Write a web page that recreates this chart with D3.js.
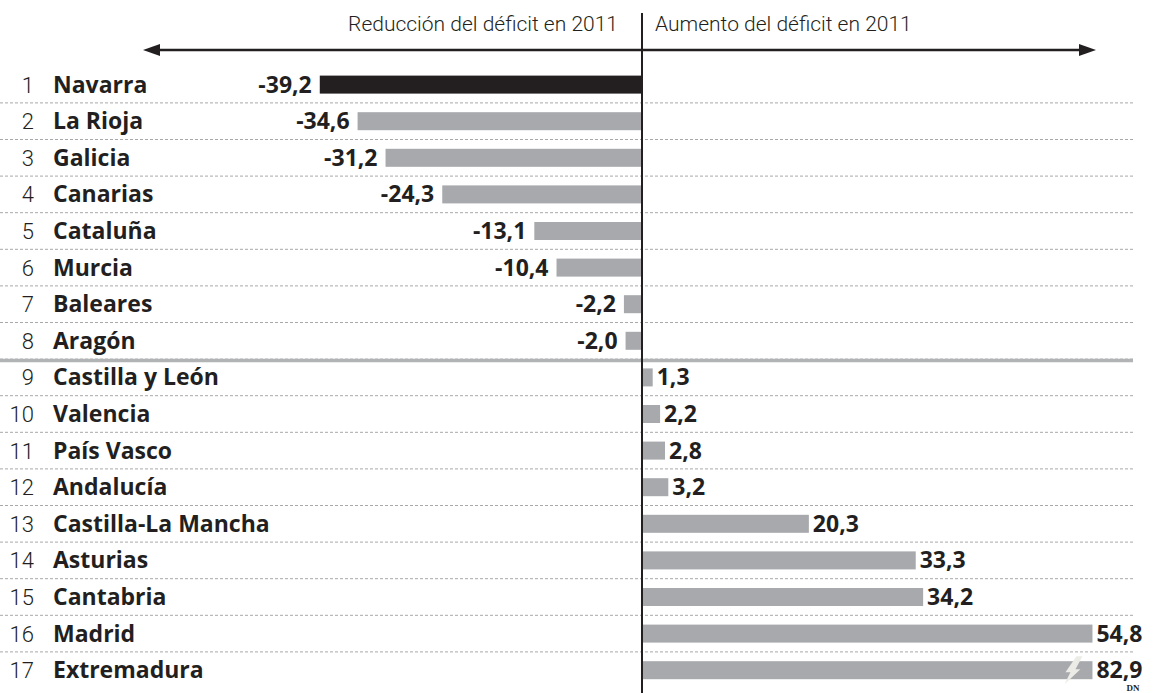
<!DOCTYPE html>
<html>
<head>
<meta charset="utf-8">
<script src="https://cdn.jsdelivr.net/npm/d3@7"></script>
<style>
  body { margin: 0; background: #fff; }
  .rank { font-family: Roboto, "Open Sans", sans-serif; font-weight: 300; font-size: 22px; fill: #231f20; }
  .name, .value { font-family: "Open Sans", Roboto, sans-serif; font-weight: 700; font-size: 23px; fill: #231f20; }
  .head { font-family: Roboto, sans-serif; font-weight: 300; font-size: 21px; fill: #231f20; }
</style>
</head>
<body>
<div id="chart"></div>
<script>
// data
const regions = ["Navarra", "La Rioja", "Galicia", "Canarias", "Cataluña", "Murcia", "Baleares", "Aragón",
  "Castilla y León", "Valencia", "País Vasco", "Andalucía", "Castilla-La Mancha", "Asturias", "Cantabria",
  "Madrid", "Extremadura"];
const values = [-39.2, -34.6, -31.2, -24.3, -13.1, -10.4, -2.2, -2.0,
  1.3, 2.2, 2.8, 3.2, 20.3, 33.3, 34.2, 54.8, 82.9];
const headLabels = ["Reducción del déficit en 2011", "Aumento del déficit en 2011"];
const breakValue = 54.8; // bars beyond this are cut (Extremadura)

const config = {
  width: 1169,
  height: 693,
  zeroX: 642,
  unit: 8.22,
  rowTop: 66.3,
  rowStep: 36.6,
  barH: 18,
  lineEnd: 1133
};

// spanish decimal comma, plain hyphen for negatives
const fmt = v => d3.format(".1f")(v).replace(".", ",").replace("\u2212", "-");

const svg = d3.select("#chart").append("svg")
  .attr("width", config.width)
  .attr("height", config.height);

const x = d3.scaleLinear()
  .domain([-39.2, breakValue])
  .range([config.zeroX - 39.2 * config.unit, config.zeroX + breakValue * config.unit]);

const y = d3.scaleBand()
  .domain(regions)
  .range([config.rowTop, config.rowTop + regions.length * config.rowStep]);

// dotted separators
svg.selectAll(".sep").data(regions.slice(0, -1))
  .enter().append("line")
  .attr("class", "sep")
  .attr("x1", 0).attr("x2", config.lineEnd)
  .attr("y1", d => y(d) + y.bandwidth())
  .attr("y2", d => y(d) + y.bandwidth())
  .attr("stroke", "#a8a8a8")
  .attr("stroke-width", 1)
  .attr("stroke-dasharray", "3,2");

// thick separator between reducers and increasers
const lastNeg = regions[values.filter(v => v < 0).length - 1];
svg.append("line")
  .attr("x1", 0).attr("x2", config.lineEnd)
  .attr("y1", y(lastNeg) + y.bandwidth() + 1.5)
  .attr("y2", y(lastNeg) + y.bandwidth() + 1.5)
  .attr("stroke", "#b1b3b5")
  .attr("stroke-width", 3.5);

// bars
svg.selectAll(".bar").data(regions)
  .enter().append("rect")
  .attr("class", "bar")
  .attr("x", (d, i) => Math.min(x(0), x(Math.min(values[i], breakValue))))
  .attr("width", (d, i) => Math.abs(x(Math.min(values[i], breakValue)) - x(0)))
  .attr("y", d => y(d) + y.bandwidth() / 2 - config.barH / 2)
  .attr("height", config.barH)
  .attr("fill", (d, i) => i === 0 ? "#231f20" : "#a7a9ac");

// break mark on the cut bar
values.forEach((v, i) => {
  if (v <= breakValue) return;
  const cx = x(breakValue) - 20, cy = y(regions[i]) + y.bandwidth() / 2;
  const pts = [[4, -14], [10, -14], [3, -1], [8, -1], [-8, 14], [-2, 2], [-7, 2]];
  svg.append("path")
    .attr("d", "M" + pts.map(p => (cx + p[0]) + "," + (cy + p[1])).join("L") + "Z")
    .attr("fill", "#ecece6");
});

// value labels
svg.selectAll(".value").data(regions)
  .enter().append("text")
  .attr("class", "value")
  .attr("x", (d, i) => values[i] < 0 ? x(values[i]) - 8 : x(Math.min(values[i], breakValue)) + 4)
  .attr("y", d => y(d) + y.bandwidth() / 2 + 8)
  .attr("text-anchor", (d, i) => values[i] < 0 ? "end" : "start")
  .text((d, i) => fmt(values[i]));

// rank numbers and names
svg.selectAll(".rank").data(regions)
  .enter().append("text")
  .attr("class", "rank")
  .attr("x", 34)
  .attr("y", d => y(d) + y.bandwidth() / 2 + 8)
  .attr("text-anchor", "end")
  .text((d, i) => i + 1);

svg.selectAll(".name").data(regions)
  .enter().append("text")
  .attr("class", "name")
  .attr("x", 53)
  .attr("y", d => y(d) + y.bandwidth() / 2 + 8)
  .text(d => d);

// zero axis
svg.append("line")
  .attr("x1", x(0)).attr("x2", x(0))
  .attr("y1", 13).attr("y2", config.height)
  .attr("stroke", "#231f20")
  .attr("stroke-width", 2);

// header arrows
const arrowY = 50;
svg.append("line")
  .attr("x1", 150).attr("x2", 1088)
  .attr("y1", arrowY).attr("y2", arrowY)
  .attr("stroke", "#231f20")
  .attr("stroke-width", 2.5);
svg.append("path")
  .attr("d", `M143,${arrowY} L160,${arrowY - 6} L160,${arrowY + 6} Z`)
  .attr("fill", "#231f20");
svg.append("path")
  .attr("d", `M1096,${arrowY} L1079,${arrowY - 6} L1079,${arrowY + 6} Z`)
  .attr("fill", "#231f20");

svg.append("text").attr("class", "head")
  .attr("x", x(0) - 24).attr("y", 31)
  .attr("text-anchor", "end")
  .text(headLabels[0]);
svg.append("text").attr("class", "head")
  .attr("x", x(0) + 13).attr("y", 31)
  .text(headLabels[1]);

// credit
svg.append("text")
  .attr("x", 1133).attr("y", 691)
  .attr("text-anchor", "middle")
  .attr("font-family", "'Liberation Serif', serif")
  .attr("font-weight", 700)
  .attr("font-size", 9)
  .attr("fill", "#231f20")
  .text("DN");
</script>
</body>
</html>
